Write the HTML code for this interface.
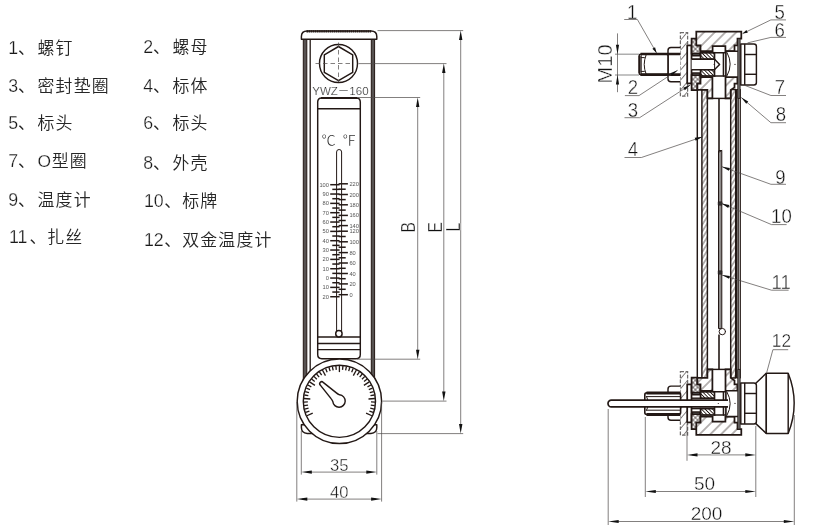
<!DOCTYPE html>
<html lang="zh-CN">
<head>
<meta charset="utf-8">
<title>YWZ-160</title>
<style>
html,body{margin:0;padding:0;background:#fff;}
body{width:820px;height:528px;overflow:hidden;}
svg{display:block;will-change:transform;}
text{font-family:"Liberation Sans","Noto Sans CJK SC",sans-serif;}
.li{fill:#262626;font-weight:350;}
.dg{stroke:#fff;stroke-width:0.25px;fill:#1a1a1a;}
.n{fill:#111;stroke:#fff;stroke-width:0.38px;}
.lab{fill:#2a2a2a;stroke:#fff;stroke-width:0.22px;}
.sc{fill:#555;}
.cj{stroke:none;font-weight:300;}
.cj2{fill:#333;font-weight:300;}
.k{stroke:#231815;stroke-width:1.45;stroke-linejoin:round;}
.kb{stroke:#231815;stroke-width:1.75;stroke-linejoin:miter;}
.k1{stroke:#231815;stroke-width:1;stroke-linejoin:round;stroke-linecap:round;}
.rail{fill:#575251;stroke:#231815;stroke-width:1;}
.t{stroke:#4d4948;stroke-width:0.7;fill:none;}
.t2{stroke:#9a9a9a;stroke-width:1.2;fill:none;}
.tk{stroke:#231815;stroke-width:1.5;fill:none;}
.tk2{stroke:#231815;stroke-width:1.3;fill:none;}
.ah{fill:#111;stroke:none;}
</style>
</head>
<body>
<svg width="820" height="528" viewBox="0 0 820 528">
<defs>
<pattern id="hb" patternUnits="userSpaceOnUse" width="7.6" height="7.6" patternTransform="rotate(-45)">
<rect width="7.6" height="7.6" fill="#fff"/><line x1="0" y1="3.8" x2="7.6" y2="3.8" stroke="#231815" stroke-width="0.65"/></pattern>
<pattern id="hg" patternUnits="userSpaceOnUse" width="3.6" height="3.6" patternTransform="rotate(-58)">
<rect width="3.6" height="3.6" fill="#fff"/><line x1="0" y1="1.8" x2="3.6" y2="1.8" stroke="#231815" stroke-width="0.65"/></pattern>
<pattern id="hs" patternUnits="userSpaceOnUse" width="2.6" height="2.6" patternTransform="rotate(45)">
<rect width="2.6" height="2.6" fill="#fff"/><line x1="0" y1="1.3" x2="2.6" y2="1.3" stroke="#231815" stroke-width="0.9"/></pattern>
<pattern id="hx" patternUnits="userSpaceOnUse" width="3.3" height="3.3" patternTransform="rotate(45)">
<rect width="3.3" height="3.3" fill="#fff"/><path d="M0,1.65 H3.3 M1.65,0 V3.3" stroke="#231815" stroke-width="0.55"/></pattern>
<pattern id="hp" patternUnits="userSpaceOnUse" width="6.4" height="6.4" patternTransform="rotate(-50)">
<rect width="6.4" height="6.4" fill="#fff"/><line x1="0" y1="3.2" x2="6.4" y2="3.2" stroke="#6a6766" stroke-width="0.8"/></pattern>
</defs>
<g fill="none">
<text y="53.5" font-size="16.9" class="li"><tspan x="8.30" class="dg" font-size="17.8">1</tspan><tspan x="18.09">、</tspan><tspan x="37.49" letter-spacing="1.2">螺钉</tspan></text>
<text y="91.5" font-size="16.9" class="li"><tspan x="8.30" class="dg" font-size="17.8">3</tspan><tspan x="18.09">、</tspan><tspan x="37.49" letter-spacing="1.2">密封垫圈</tspan></text>
<text y="129.3" font-size="16.9" class="li"><tspan x="8.30" class="dg" font-size="17.8">5</tspan><tspan x="18.09">、</tspan><tspan x="37.49" letter-spacing="1.2">标头</tspan></text>
<text y="166.9" font-size="16.9" class="li"><tspan x="8.30" class="dg" font-size="17.8">7</tspan><tspan x="18.09">、</tspan><tspan x="37.49" letter-spacing="1.2"><tspan class="dg" font-size="17.4" letter-spacing="0.6">O</tspan>型圈</tspan></text>
<text y="205.9" font-size="16.9" class="li"><tspan x="8.30" class="dg" font-size="17.8">9</tspan><tspan x="18.09">、</tspan><tspan x="37.49" letter-spacing="1.2">温度计</tspan></text>
<text y="243.1" font-size="16.9" class="li"><tspan x="9.00" class="dg" font-size="17.8">11</tspan><tspan x="29.38">、</tspan><tspan x="47.28" letter-spacing="1.2">扎丝</tspan></text>
<text y="53.4" font-size="16.9" class="li"><tspan x="143.20" class="dg" font-size="17.8">2</tspan><tspan x="152.99">、</tspan><tspan x="172.39" letter-spacing="1.2">螺母</tspan></text>
<text y="91.6" font-size="16.9" class="li"><tspan x="143.20" class="dg" font-size="17.8">4</tspan><tspan x="152.99">、</tspan><tspan x="172.39" letter-spacing="1.2">标体</tspan></text>
<text y="129.0" font-size="16.9" class="li"><tspan x="143.20" class="dg" font-size="17.8">6</tspan><tspan x="152.99">、</tspan><tspan x="172.39" letter-spacing="1.2">标头</tspan></text>
<text y="168.9" font-size="16.9" class="li"><tspan x="143.20" class="dg" font-size="17.8">8</tspan><tspan x="152.99">、</tspan><tspan x="172.39" letter-spacing="1.2">外壳</tspan></text>
<text y="207.2" font-size="16.9" class="li"><tspan x="143.90" class="dg" font-size="17.8">10</tspan><tspan x="164.28">、</tspan><tspan x="182.18" letter-spacing="1.2">标牌</tspan></text>
<text y="245.9" font-size="16.9" class="li"><tspan x="143.90" class="dg" font-size="17.8">12</tspan><tspan x="164.28">、</tspan><tspan x="182.18" letter-spacing="1.2">双金温度计</tspan></text>
<rect x="303.30" y="39.00" width="3.50" height="388.00" class="rail" />
<rect x="371.30" y="39.00" width="3.30" height="388.00" class="rail" />
<line x1="310.20" y1="39.00" x2="310.20" y2="380.00" class="k1"  style="stroke-width:1.3"/>
<path d="M301.4,39.2 L301.4,36.4 Q301.4,31 307.2,31 L371,31 Q376.8,31 376.8,36.4 L376.8,39.2 Z" class="k"  style="fill:#fff"/>
<line x1="306.50" y1="31.40" x2="371.60" y2="31.40" class="k"  style="stroke-width:2.2;stroke-dasharray:1.6 0.5"/>
<path d="M301.4,424.8 L301.4,427.6 Q301.4,433.4 307.2,433.4 L371,433.4 Q376.8,433.4 376.8,427.6 L376.8,424.8 Z" class="k"  style="fill:#fff"/>
<circle cx="338.50" cy="63.50" r="19.00" class="k" />
<polygon points="338.50,46.50 352.70,54.80 352.70,72.40 338.50,80.70 324.30,72.40 324.30,54.80" class="k" />
<line x1="315.50" y1="63.50" x2="352.00" y2="63.50" class="t"  style="stroke-dasharray:4.5 3"/>
<line x1="338.50" y1="42.50" x2="338.50" y2="82.00" class="t"  style="stroke-dasharray:4.5 3"/>
<text x="312.20" y="95.20" font-size="11.6" class="lab" textLength="56.4" lengthAdjust="spacingAndGlyphs">YWZ<tspan class="cj">－</tspan>160</text>
<path d="M317.7,354.6 L317.7,102 Q317.7,97.9 321.8,97.9 L356.2,97.9 Q360.3,97.9 360.3,102 L360.3,354.6 Q360.3,358.8 356.2,358.8 L321.8,358.8 Q317.7,358.8 317.7,354.6 Z" class="k" />
<line x1="321.00" y1="98.00" x2="357.00" y2="98.00" class="k"  style="stroke-width:2"/>
<line x1="317.70" y1="108.70" x2="360.30" y2="108.70" class="k" />
<line x1="317.70" y1="336.90" x2="360.30" y2="336.90" class="k" />
<line x1="317.70" y1="343.50" x2="360.30" y2="343.50" class="k" />
<line x1="317.70" y1="349.60" x2="360.30" y2="349.60" class="k" />
<text x="321.40" y="145.20" font-size="14.2" class="cj2" >℃</text>
<text x="342.00" y="145.20" font-size="14.2" class="cj2" >℉</text>
<path d="M336.6,331 L336.6,152 Q336.6,149.5 339.1,149.5 Q341.6,149.5 341.6,152 L341.6,331" class="k1" />
<circle cx="338.90" cy="333.70" r="3.20" class="k"  style="fill:#fff"/>
<line x1="330.20" y1="184.70" x2="339.60" y2="184.70" class="tk" />
<line x1="332.30" y1="189.37" x2="339.60" y2="189.37" class="tk" />
<line x1="330.20" y1="194.03" x2="339.60" y2="194.03" class="tk" />
<line x1="332.30" y1="198.70" x2="339.60" y2="198.70" class="tk" />
<line x1="330.20" y1="203.37" x2="339.60" y2="203.37" class="tk" />
<line x1="332.30" y1="208.04" x2="339.60" y2="208.04" class="tk" />
<line x1="330.20" y1="212.70" x2="339.60" y2="212.70" class="tk" />
<line x1="332.30" y1="217.37" x2="339.60" y2="217.37" class="tk" />
<line x1="330.20" y1="222.04" x2="339.60" y2="222.04" class="tk" />
<line x1="332.30" y1="226.71" x2="339.60" y2="226.71" class="tk" />
<line x1="330.20" y1="231.38" x2="339.60" y2="231.38" class="tk" />
<line x1="332.30" y1="236.04" x2="339.60" y2="236.04" class="tk" />
<line x1="330.20" y1="240.71" x2="339.60" y2="240.71" class="tk" />
<line x1="332.30" y1="245.38" x2="339.60" y2="245.38" class="tk" />
<line x1="330.20" y1="250.04" x2="339.60" y2="250.04" class="tk" />
<line x1="332.30" y1="254.71" x2="339.60" y2="254.71" class="tk" />
<line x1="330.20" y1="259.38" x2="339.60" y2="259.38" class="tk" />
<line x1="332.30" y1="264.05" x2="339.60" y2="264.05" class="tk" />
<line x1="330.20" y1="268.72" x2="339.60" y2="268.72" class="tk" />
<line x1="332.30" y1="273.38" x2="339.60" y2="273.38" class="tk" />
<line x1="330.20" y1="278.05" x2="339.60" y2="278.05" class="tk" />
<line x1="332.30" y1="282.72" x2="339.60" y2="282.72" class="tk" />
<line x1="330.20" y1="287.38" x2="339.60" y2="287.38" class="tk" />
<line x1="332.30" y1="292.05" x2="339.60" y2="292.05" class="tk" />
<line x1="330.20" y1="296.72" x2="339.60" y2="296.72" class="tk" />
<text x="328.90" y="186.70" font-size="5.7" class="sc" text-anchor="end">100</text>
<text x="328.90" y="196.03" font-size="5.7" class="sc" text-anchor="end">90</text>
<text x="328.90" y="205.37" font-size="5.7" class="sc" text-anchor="end">80</text>
<text x="328.90" y="214.70" font-size="5.7" class="sc" text-anchor="end">70</text>
<text x="328.90" y="224.04" font-size="5.7" class="sc" text-anchor="end">60</text>
<text x="328.90" y="233.38" font-size="5.7" class="sc" text-anchor="end">50</text>
<text x="328.90" y="242.71" font-size="5.7" class="sc" text-anchor="end">40</text>
<text x="328.90" y="252.04" font-size="5.7" class="sc" text-anchor="end">30</text>
<text x="328.90" y="261.38" font-size="5.7" class="sc" text-anchor="end">20</text>
<text x="328.90" y="270.72" font-size="5.7" class="sc" text-anchor="end">10</text>
<text x="328.90" y="280.05" font-size="5.7" class="sc" text-anchor="end">0</text>
<text x="328.90" y="289.38" font-size="5.7" class="sc" text-anchor="end">10</text>
<text x="328.90" y="298.72" font-size="5.7" class="sc" text-anchor="end">20</text>
<line x1="338.60" y1="183.80" x2="347.90" y2="183.80" class="tk" />
<text x="349.40" y="185.80" font-size="5.7" class="sc" >220</text>
<line x1="338.60" y1="194.50" x2="347.90" y2="194.50" class="tk" />
<text x="349.40" y="196.50" font-size="5.7" class="sc" >200</text>
<line x1="338.60" y1="204.80" x2="347.90" y2="204.80" class="tk" />
<text x="349.40" y="206.80" font-size="5.7" class="sc" >180</text>
<line x1="338.60" y1="215.40" x2="347.90" y2="215.40" class="tk" />
<text x="349.40" y="217.40" font-size="5.7" class="sc" >160</text>
<line x1="338.60" y1="225.60" x2="347.90" y2="225.60" class="tk" />
<text x="349.40" y="227.60" font-size="5.7" class="sc" >140</text>
<line x1="338.60" y1="231.20" x2="347.90" y2="231.20" class="tk" />
<text x="349.40" y="233.20" font-size="5.7" class="sc" >120</text>
<line x1="338.60" y1="241.80" x2="347.90" y2="241.80" class="tk" />
<text x="349.40" y="243.80" font-size="5.7" class="sc" >100</text>
<line x1="338.60" y1="252.60" x2="347.90" y2="252.60" class="tk" />
<text x="349.40" y="254.60" font-size="5.7" class="sc" >80</text>
<line x1="338.60" y1="263.00" x2="347.90" y2="263.00" class="tk" />
<text x="349.40" y="265.00" font-size="5.7" class="sc" >60</text>
<line x1="338.60" y1="273.50" x2="347.90" y2="273.50" class="tk" />
<text x="349.40" y="275.50" font-size="5.7" class="sc" >40</text>
<line x1="338.60" y1="283.90" x2="347.90" y2="283.90" class="tk" />
<text x="349.40" y="285.90" font-size="5.7" class="sc" >20</text>
<line x1="338.60" y1="294.70" x2="347.90" y2="294.70" class="tk" />
<text x="349.40" y="296.70" font-size="5.7" class="sc" >0</text>
<line x1="338.60" y1="189.20" x2="345.70" y2="189.20" class="tk" />
<line x1="338.60" y1="199.60" x2="345.70" y2="199.60" class="tk" />
<line x1="338.60" y1="210.10" x2="345.70" y2="210.10" class="tk" />
<line x1="338.60" y1="220.50" x2="345.70" y2="220.50" class="tk" />
<line x1="338.60" y1="236.50" x2="345.70" y2="236.50" class="tk" />
<line x1="338.60" y1="247.20" x2="345.70" y2="247.20" class="tk" />
<line x1="338.60" y1="257.80" x2="345.70" y2="257.80" class="tk" />
<line x1="338.60" y1="268.30" x2="345.70" y2="268.30" class="tk" />
<line x1="338.60" y1="278.70" x2="345.70" y2="278.70" class="tk" />
<line x1="338.60" y1="289.30" x2="345.70" y2="289.30" class="tk" />
<circle cx="339.40" cy="401.30" r="42.20" class="k"  style="fill:#fff"/>
<circle cx="339.40" cy="401.30" r="36.10" class="k" />
<line x1="306.88" y1="415.78" x2="312.72" y2="413.18" class="tk2" />
<line x1="305.60" y1="412.48" x2="309.40" y2="411.22" class="tk2" />
<line x1="304.66" y1="409.07" x2="308.56" y2="408.19" class="tk2" />
<line x1="304.06" y1="405.58" x2="308.03" y2="405.10" class="tk2" />
<line x1="303.81" y1="402.05" x2="307.81" y2="401.96" class="tk2" />
<line x1="303.91" y1="398.51" x2="310.29" y2="399.01" class="tk2" />
<line x1="304.36" y1="395.00" x2="308.30" y2="395.70" class="tk2" />
<line x1="305.16" y1="391.55" x2="309.01" y2="392.64" class="tk2" />
<line x1="306.30" y1="388.19" x2="310.02" y2="389.67" class="tk2" />
<line x1="307.77" y1="384.97" x2="311.32" y2="386.81" class="tk2" />
<line x1="309.54" y1="381.91" x2="314.91" y2="385.40" class="tk2" />
<line x1="311.62" y1="379.04" x2="314.74" y2="381.54" class="tk2" />
<line x1="313.96" y1="376.39" x2="316.82" y2="379.19" class="tk2" />
<line x1="316.56" y1="373.99" x2="319.13" y2="377.06" class="tk2" />
<line x1="319.39" y1="371.86" x2="321.64" y2="375.16" class="tk2" />
<line x1="322.41" y1="370.01" x2="325.47" y2="375.64" class="tk2" />
<line x1="325.60" y1="368.48" x2="327.15" y2="372.17" class="tk2" />
<line x1="328.93" y1="367.27" x2="330.11" y2="371.10" class="tk2" />
<line x1="332.36" y1="366.40" x2="333.15" y2="370.32" class="tk2" />
<line x1="335.86" y1="365.88" x2="336.26" y2="369.86" class="tk2" />
<line x1="339.40" y1="365.70" x2="339.40" y2="372.10" class="tk2" />
<line x1="342.94" y1="365.88" x2="342.54" y2="369.86" class="tk2" />
<line x1="346.44" y1="366.40" x2="345.65" y2="370.32" class="tk2" />
<line x1="349.87" y1="367.27" x2="348.69" y2="371.10" class="tk2" />
<line x1="353.20" y1="368.48" x2="351.65" y2="372.17" class="tk2" />
<line x1="356.39" y1="370.01" x2="353.33" y2="375.64" class="tk2" />
<line x1="359.41" y1="371.86" x2="357.16" y2="375.16" class="tk2" />
<line x1="362.24" y1="373.99" x2="359.67" y2="377.06" class="tk2" />
<line x1="364.84" y1="376.39" x2="361.98" y2="379.19" class="tk2" />
<line x1="367.18" y1="379.04" x2="364.06" y2="381.54" class="tk2" />
<line x1="369.26" y1="381.91" x2="363.89" y2="385.40" class="tk2" />
<line x1="371.03" y1="384.97" x2="367.48" y2="386.81" class="tk2" />
<line x1="372.50" y1="388.19" x2="368.78" y2="389.67" class="tk2" />
<line x1="373.64" y1="391.55" x2="369.79" y2="392.64" class="tk2" />
<line x1="374.44" y1="395.00" x2="370.50" y2="395.70" class="tk2" />
<line x1="374.89" y1="398.51" x2="368.51" y2="399.01" class="tk2" />
<line x1="374.99" y1="402.05" x2="370.99" y2="401.96" class="tk2" />
<line x1="374.74" y1="405.58" x2="370.77" y2="405.10" class="tk2" />
<line x1="374.14" y1="409.07" x2="370.24" y2="408.19" class="tk2" />
<line x1="373.20" y1="412.48" x2="369.40" y2="411.22" class="tk2" />
<line x1="371.92" y1="415.78" x2="366.08" y2="413.18" class="tk2" />
<path transform="translate(339,401) rotate(225)" d="M7.6,3.9 L24.4,2.0 A2,2 0 0 0 24.4,-2.0 L7.6,-3.9 Q5.6,-4.0 4.0,-4.75 A6.2,6.2 0 1 0 4.0,4.75 Q5.6,4.0 7.6,3.9 Z" class="k" style="fill:#fff"/>
<line x1="377.50" y1="30.60" x2="463.20" y2="30.60" class="t" />
<line x1="358.50" y1="63.60" x2="446.50" y2="63.60" class="t" />
<line x1="357.00" y1="97.50" x2="420.20" y2="97.50" class="t" />
<line x1="357.00" y1="359.20" x2="420.20" y2="359.20" class="t" />
<line x1="382.50" y1="401.10" x2="446.50" y2="401.10" class="t" />
<line x1="377.50" y1="433.60" x2="463.20" y2="433.60" class="t" />
<line x1="417.70" y1="103.50" x2="417.70" y2="353.20" class="t" />
<polygon points="417.70,97.50 419.40,107.00 416.00,107.00" class="ah" />
<polygon points="417.70,359.20 416.00,349.70 419.40,349.70" class="ah" />
<line x1="443.80" y1="69.60" x2="443.80" y2="395.10" class="t" />
<polygon points="443.80,63.60 445.50,73.10 442.10,73.10" class="ah" />
<polygon points="443.80,401.10 442.10,391.60 445.50,391.60" class="ah" />
<line x1="460.70" y1="36.60" x2="460.70" y2="427.60" class="t" />
<polygon points="460.70,30.60 462.40,40.10 459.00,40.10" class="ah" />
<polygon points="460.70,433.60 459.00,424.10 462.40,424.10" class="ah" />
<text transform="translate(415.4,227.2) rotate(-90) scale(0.78,1)" font-size="20" class="n" text-anchor="middle">B</text>
<text transform="translate(441.9,227.2) rotate(-90) scale(0.78,1)" font-size="20" class="n" text-anchor="middle">E</text>
<text transform="translate(460.1,227.2) rotate(-90) scale(0.78,1)" font-size="20" class="n" text-anchor="middle">L</text>
<line x1="301.30" y1="431.00" x2="301.30" y2="474.60" class="t" />
<line x1="376.80" y1="431.00" x2="376.80" y2="474.60" class="t" />
<line x1="296.80" y1="402.00" x2="296.80" y2="501.60" class="t" />
<line x1="381.60" y1="402.00" x2="381.60" y2="501.60" class="t" />
<line x1="307.00" y1="472.10" x2="371.00" y2="472.10" class="t" />
<polygon points="301.30,472.10 311.80,470.50 311.80,473.70" class="ah" />
<polygon points="376.80,472.10 366.30,473.70 366.30,470.50" class="ah" />
<line x1="302.00" y1="499.10" x2="376.00" y2="499.10" class="t" />
<polygon points="296.80,499.10 307.30,497.50 307.30,500.70" class="ah" />
<polygon points="381.60,499.10 371.10,500.70 371.10,497.50" class="ah" />
<text x="339.30" y="471.00" font-size="16.6" class="n" text-anchor="middle">35</text>
<text x="339.30" y="498.00" font-size="16.6" class="n" text-anchor="middle">40</text>
<line x1="697.30" y1="89.50" x2="697.30" y2="378.00" class="k" />
<rect x="701.90" y="89.50" width="5.50" height="288.50" class="k"  style="fill:url(#hg)"/>
<rect x="730.70" y="89.50" width="5.00" height="288.50" class="k"  style="fill:url(#hg)"/>
<rect x="736.40" y="89.50" width="2.40" height="288.50" class="k"  style="fill:#8a8685;stroke-width:1"/>
<line x1="736.40" y1="89.50" x2="736.40" y2="378.00" class="k"  style="stroke-width:1.7"/>
<line x1="740.40" y1="89.50" x2="740.40" y2="378.00" class="k1" />
<rect x="680.4" y="32.60" width="7.2" height="63.60" fill="url(#hp)" stroke="#6e6b6a" stroke-width="1.25" stroke-dasharray="3.6 1.6"/>
<path d="M680.4,47.50 L671,47.50 Q668,47.50 668,50.50 L668,78.70 Q668,81.70 671,81.70 L680.4,81.70" class="k"  style="fill:#fff"/>
<rect x="687.20" y="45.40" width="4.30" height="38.00" class="kb"  style="fill:#fff"/>
<polygon points="691.60,38.70 697.40,38.70 697.40,45.30 700.50,45.30 700.50,53.60 691.60,53.60" class="kb"  style="fill:url(#hx)"/>
<rect x="692.40" y="53.60" width="7.60" height="2.20" class="k"  style="fill:#555"/>
<polygon points="691.60,90.10 697.40,90.10 697.40,83.50 700.50,83.50 700.50,75.20 691.60,75.20" class="kb"  style="fill:url(#hx)"/>
<rect x="692.40" y="73.00" width="7.60" height="2.20" class="k"  style="fill:#555"/>
<polygon points="696.30,31.70 741.30,31.70 741.30,38.70 737.50,38.70 737.50,45.30 734.50,45.30 734.50,51.20 725.40,51.20 725.40,46.20 712.60,46.20 712.60,51.20 700.50,51.20 700.50,45.30 696.30,45.30" class="kb"  style="fill:url(#hb)"/>
<polygon points="700.50,77.00 712.40,77.00 712.40,98.40 707.40,98.40 707.40,89.90 697.40,89.90 697.40,83.50 700.50,83.50" class="kb"  style="fill:url(#hb)"/>
<polygon points="725.50,77.00 737.40,77.00 737.40,83.50 734.50,83.50 734.50,87.40 730.70,89.90 730.70,98.40 725.50,98.40" class="kb"  style="fill:url(#hb)"/>
<line x1="707.40" y1="98.40" x2="730.70" y2="98.40" class="k" />
<rect x="700.60" y="52.80" width="14.00" height="6.40" class="kb"  style="fill:url(#hs)"/>
<line x1="691.60" y1="59.20" x2="700.60" y2="59.20" class="k" />
<rect x="700.60" y="69.60" width="14.00" height="6.40" class="kb"  style="fill:url(#hs)"/>
<line x1="691.60" y1="69.60" x2="700.60" y2="69.60" class="k" />
<rect x="714.60" y="52.80" width="9.00" height="23.20" class="k"  style="fill:#fff"/>
<rect x="723.50" y="52.80" width="2.50" height="23.20" class="k"  style="fill:#fff"/>
<rect x="726.00" y="51.30" width="13.00" height="25.70" class="k"  style="fill:#fff"/>
<path d="M727,52.50 Q733.5,64.15 727,75.80" class="k1" />
<circle cx="735" cy="64.40" r="0.6" fill="#231815"/>
<rect x="737.80" y="38.70" width="2.30" height="59.70" class="k"  style="fill:#777;stroke-width:0.9"/>
<path d="M740.8,43.90 L753.9,43.90 Q756.4,43.90 756.4,46.40 L756.4,82.40 Q756.4,84.90 753.9,84.90 L740.8,84.90 Z" class="k"  style="fill:#fff"/>
<line x1="744.70" y1="43.90" x2="744.70" y2="84.90" class="k" />
<line x1="744.70" y1="54.50" x2="756.40" y2="54.50" class="k" />
<line x1="744.70" y1="74.30" x2="756.40" y2="74.30" class="k" />
<rect x="680.4" y="371.60" width="7.2" height="63.60" fill="url(#hp)" stroke="#6e6b6a" stroke-width="1.25" stroke-dasharray="3.6 1.6"/>
<path d="M680.4,386.10 L671,386.10 Q668,386.10 668,389.10 L668,417.30 Q668,420.30 671,420.30 L680.4,420.30" class="k"  style="fill:#fff"/>
<rect x="687.20" y="384.40" width="4.30" height="38.00" class="kb"  style="fill:#fff"/>
<polygon points="691.60,429.10 697.40,429.10 697.40,422.50 700.50,422.50 700.50,414.20 691.60,414.20" class="kb"  style="fill:url(#hx)"/>
<rect x="692.40" y="412.00" width="7.60" height="2.20" class="k"  style="fill:#555"/>
<polygon points="691.60,377.70 697.40,377.70 697.40,384.30 700.50,384.30 700.50,392.60 691.60,392.60" class="kb"  style="fill:url(#hx)"/>
<rect x="692.40" y="392.60" width="7.60" height="2.20" class="k"  style="fill:#555"/>
<polygon points="696.30,434.90 741.30,434.90 741.30,429.10 737.50,429.10 737.50,422.50 734.50,422.50 734.50,416.60 725.40,416.60 725.40,421.60 712.60,421.60 712.60,416.60 700.50,416.60 700.50,422.50 696.30,422.50" class="kb"  style="fill:url(#hb)"/>
<polygon points="700.50,390.80 712.40,390.80 712.40,369.40 707.40,369.40 707.40,377.90 697.40,377.90 697.40,384.30 700.50,384.30" class="kb"  style="fill:url(#hb)"/>
<polygon points="725.50,390.80 737.40,390.80 737.40,384.30 734.50,384.30 734.50,380.40 730.70,377.90 730.70,369.40 725.50,369.40" class="kb"  style="fill:url(#hb)"/>
<line x1="707.40" y1="369.40" x2="730.70" y2="369.40" class="k" />
<rect x="700.60" y="408.60" width="14.00" height="6.40" class="kb"  style="fill:url(#hs)"/>
<line x1="691.60" y1="408.60" x2="700.60" y2="408.60" class="k" />
<rect x="700.60" y="391.80" width="14.00" height="6.40" class="kb"  style="fill:url(#hs)"/>
<line x1="691.60" y1="398.20" x2="700.60" y2="398.20" class="k" />
<rect x="714.60" y="391.80" width="9.00" height="23.20" class="k"  style="fill:#fff"/>
<rect x="723.50" y="391.80" width="2.50" height="23.20" class="k"  style="fill:#fff"/>
<rect x="726.00" y="390.80" width="13.00" height="25.70" class="k"  style="fill:#fff"/>
<path d="M727,392.00 Q733.5,403.65 727,415.30" class="k1" />
<circle cx="735" cy="403.40" r="0.6" fill="#231815"/>
<rect x="737.80" y="369.40" width="2.30" height="59.70" class="k"  style="fill:#777;stroke-width:0.9"/>
<path d="M740.8,382.90 L753.9,382.90 Q756.4,382.90 756.4,385.40 L756.4,421.40 Q756.4,423.90 753.9,423.90 L740.8,423.90 Z" class="k"  style="fill:#fff"/>
<line x1="744.70" y1="382.90" x2="744.70" y2="423.90" class="k" />
<line x1="744.70" y1="413.30" x2="756.40" y2="413.30" class="k" />
<line x1="744.70" y1="393.50" x2="756.40" y2="393.50" class="k" />
<rect x="639.20" y="54.20" width="28.80" height="20.40" class="k" rx="1.5" style="fill:#fff;stroke-width:1.6"/>
<line x1="640.50" y1="54.00" x2="680.40" y2="54.00" class="k"  style="stroke-width:2.7"/>
<line x1="640.50" y1="74.70" x2="680.40" y2="74.70" class="k"  style="stroke-width:2.7"/>
<line x1="639.60" y1="56.00" x2="639.60" y2="72.80" class="k"  style="stroke-width:2"/>
<path d="M646,55.2 Q642.3,64.5 646,73.8" class="k1" />
<path d="M641.2,57.6 L644.4,57.6 M641.2,71.4 L644.4,71.4 M641.2,55.5 L641.2,73.6" class="k1" />
<path d="M691.6,59.2 L714.6,59.2 L719.6,64.4 L714.6,69.6 L691.6,69.6" class="k"  style="fill:#fff"/>
<line x1="714.60" y1="59.20" x2="714.60" y2="69.60" class="k1" />
<circle cx="714.2" cy="64.4" r="0.6" fill="#231815"/>
<rect x="644.80" y="392.90" width="35.80" height="21.60" class="k" rx="2" style="fill:#fff;stroke-width:1.6"/>
<line x1="646.50" y1="392.90" x2="680.40" y2="392.90" class="k"  style="stroke-width:3"/>
<line x1="646.50" y1="414.50" x2="680.40" y2="414.50" class="k"  style="stroke-width:3"/>
<line x1="646.50" y1="396.60" x2="680.40" y2="396.60" class="k1" />
<line x1="646.50" y1="410.20" x2="680.40" y2="410.20" class="k1" />
<path d="M646.5,396.6 L647.8,400 M646.5,410.2 L647.8,407" class="k1" />
<path d="M728,400.1 L611.4,400.1 A3.4,3.4 0 0 0 611.4,406.9 L728,406.9" class="k"  style="fill:#fff;stroke-width:1.7"/>
<circle cx="718.3" cy="403.5" r="0.6" fill="#231815"/>
<line x1="719.00" y1="98.40" x2="719.00" y2="150.50" class="k"  style="stroke-width:1.6"/>
<rect x="718.50" y="150.50" width="3.30" height="178.00" class="k"  style="fill:#8f8c8b;stroke-width:1"/>
<path d="M718.4,152.5 L721.8,150.5" class="k1" />
<circle cx="722.30" cy="331.60" r="3.20" class="k1"  style="fill:#fff"/>
<line x1="719.00" y1="334.50" x2="719.00" y2="369.40" class="k"  style="stroke-width:1.6"/>
<rect x="718.20" y="201.80" width="3.80" height="3.40" class="k"  style="fill:#333;stroke-width:0.6"/>
<rect x="718.20" y="270.80" width="3.80" height="3.40" class="k"  style="fill:#333;stroke-width:0.6"/>
<path d="M766.3,373.2 L788.2,373.2 Q800.2,403.3 788.2,433.4 L766.3,433.4 Z" class="k"  style="fill:#fff"/>
<path d="M755.8,383.2 L766.3,373.2 M755.8,423.6 L766.3,433.4" class="k" />
<line x1="766.30" y1="373.20" x2="766.30" y2="433.40" class="k" />
<line x1="788.20" y1="373.20" x2="788.20" y2="433.40" class="k" />
<line x1="615.00" y1="54.20" x2="639.00" y2="54.20" class="t2" />
<line x1="615.00" y1="75.00" x2="639.00" y2="75.00" class="t2" />
<line x1="617.50" y1="33.40" x2="617.50" y2="92.20" class="t" />
<polygon points="617.50,54.20 615.90,44.70 619.10,44.70" class="ah" />
<polygon points="617.50,75.00 619.10,84.50 615.90,84.50" class="ah" />
<text transform="translate(612.2,83.4) rotate(-90)" font-size="20" class="n">M10</text>
<text transform="translate(632.20,18.90) scale(0.93,1)" font-size="20" class="n" text-anchor="middle">1</text>
<line x1="624.20" y1="19.50" x2="637.40" y2="19.50" class="t" />
<line x1="637.40" y1="19.50" x2="656.60" y2="53.00" class="t" />
<polygon points="656.60,53.00 652.37,48.74 655.06,47.20" class="ah" />
<text transform="translate(633.00,93.90) scale(0.93,1)" font-size="20" class="n" text-anchor="middle">2</text>
<line x1="624.90" y1="95.60" x2="639.00" y2="95.60" class="t" />
<line x1="639.00" y1="95.60" x2="677.60" y2="70.30" class="t" />
<polygon points="677.60,70.30 671.93,75.87 670.23,73.28" class="ah" />
<text transform="translate(633.00,116.70) scale(0.93,1)" font-size="20" class="n" text-anchor="middle">3</text>
<line x1="624.50" y1="117.70" x2="639.60" y2="117.70" class="t" />
<line x1="639.60" y1="117.70" x2="690.60" y2="84.70" class="t" />
<polygon points="690.60,84.70 684.89,90.24 683.21,87.64" class="ah" />
<text transform="translate(633.00,156.10) scale(0.93,1)" font-size="20" class="n" text-anchor="middle">4</text>
<line x1="624.50" y1="157.50" x2="641.40" y2="157.50" class="t" />
<line x1="641.40" y1="157.50" x2="702.60" y2="136.80" class="t" />
<polygon points="702.60,136.80 695.71,140.77 694.71,137.83" class="ah" />
<text transform="translate(779.70,19.40) scale(0.93,1)" font-size="20" class="n" text-anchor="middle">5</text>
<line x1="770.90" y1="19.90" x2="786.00" y2="19.90" class="t" />
<line x1="770.90" y1="19.90" x2="742.60" y2="33.60" class="t" />
<polygon points="742.60,33.60 746.43,30.03 747.78,32.82" class="ah" />
<text transform="translate(779.70,36.60) scale(0.93,1)" font-size="20" class="n" text-anchor="middle">6</text>
<line x1="770.90" y1="37.40" x2="786.00" y2="37.40" class="t" />
<line x1="770.90" y1="37.40" x2="747.50" y2="42.90" class="t" />
<text transform="translate(780.00,94.30) scale(0.93,1)" font-size="20" class="n" text-anchor="middle">7</text>
<line x1="770.90" y1="95.50" x2="786.00" y2="95.50" class="t" />
<line x1="770.90" y1="95.50" x2="744.90" y2="85.40" class="t" />
<text transform="translate(780.80,121.20) scale(0.93,1)" font-size="20" class="n" text-anchor="middle">8</text>
<line x1="770.90" y1="122.70" x2="786.00" y2="122.70" class="t" />
<line x1="770.90" y1="122.70" x2="741.30" y2="97.50" class="t" />
<polygon points="741.30,97.50 748.24,101.38 746.23,103.74" class="ah" />
<text transform="translate(780.30,183.60) scale(0.93,1)" font-size="20" class="n" text-anchor="middle">9</text>
<line x1="770.90" y1="184.30" x2="786.00" y2="184.30" class="t" />
<line x1="770.90" y1="184.30" x2="722.00" y2="166.70" class="t" />
<polygon points="722.00,166.70 729.86,167.88 728.81,170.80" class="ah" />
<text transform="translate(781.40,223.40) scale(0.93,1)" font-size="20" class="n" text-anchor="middle">10</text>
<line x1="771.50" y1="224.60" x2="786.60" y2="224.60" class="t" />
<line x1="771.50" y1="224.60" x2="721.60" y2="203.40" class="t" />
<polygon points="721.60,203.40 729.39,205.02 728.17,207.88" class="ah" />
<text transform="translate(781.20,288.90) scale(0.93,1)" font-size="20" class="n" text-anchor="middle">11</text>
<line x1="771.50" y1="290.20" x2="788.60" y2="290.20" class="t" />
<line x1="771.50" y1="290.20" x2="722.00" y2="275.10" class="t" />
<polygon points="722.00,275.10 729.91,275.89 729.01,278.86" class="ah" />
<text transform="translate(781.40,347.10) scale(0.93,1)" font-size="18.6" class="n" text-anchor="middle">12</text>
<line x1="772.90" y1="349.70" x2="788.20" y2="349.70" class="t" />
<line x1="772.90" y1="349.70" x2="766.70" y2="372.60" class="t" />
<line x1="687.00" y1="424.00" x2="687.00" y2="460.80" class="t" />
<line x1="755.80" y1="426.00" x2="755.80" y2="497.00" class="t" />
<line x1="645.30" y1="417.00" x2="645.30" y2="497.00" class="t" />
<line x1="608.20" y1="409.00" x2="608.20" y2="525.00" class="t" />
<line x1="794.30" y1="415.00" x2="794.30" y2="525.00" class="t" />
<line x1="692.00" y1="454.90" x2="750.00" y2="454.90" class="t" />
<polygon points="687.00,454.90 697.50,453.30 697.50,456.50" class="ah" />
<polygon points="755.80,454.90 745.30,456.50 745.30,453.30" class="ah" />
<line x1="651.00" y1="491.50" x2="750.00" y2="491.50" class="t" />
<polygon points="645.30,491.50 655.80,489.90 655.80,493.10" class="ah" />
<polygon points="755.80,491.50 745.30,493.10 745.30,489.90" class="ah" />
<line x1="614.00" y1="521.50" x2="788.00" y2="521.50" class="t" />
<polygon points="608.20,521.50 618.70,519.90 618.70,523.10" class="ah" />
<polygon points="794.30,521.50 783.80,523.10 783.80,519.90" class="ah" />
<text x="721.00" y="453.60" font-size="19" class="n" text-anchor="middle">28</text>
<text x="704.50" y="489.80" font-size="19" class="n" text-anchor="middle">50</text>
<text x="706.50" y="519.60" font-size="19" class="n" text-anchor="middle">200</text>
</g>
</svg>
</body>
</html>
